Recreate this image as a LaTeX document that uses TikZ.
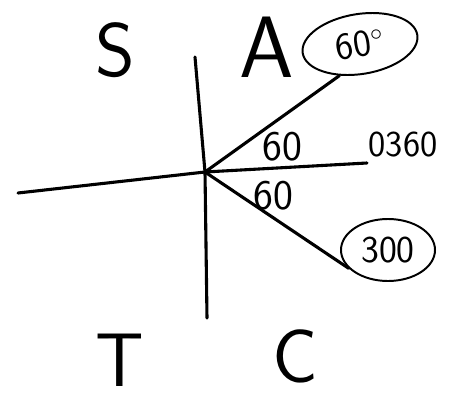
\documentclass[tikz,border=0pt]{standalone}
\usepackage{tikz}
\usetikzlibrary{shapes.geometric}

\begin{document}
\begin{tikzpicture}[
    x=0.025cm, y=-0.025cm,
    axis/.style={line width=2.2pt,line cap=round},
    ray/.style={line width=2.2pt,line cap=round},
    quad/.style={font=\fontsize{54}{54}\sffamily},
    ang/.style={font=\fontsize{30}{30}\sffamily,inner sep=0pt},
    ring/.style={ellipse,draw,line width=1.4pt,inner sep=0pt,
                 font=\fontsize{27}{27}\sffamily}
  ]
  \useasboundingbox (0,0) rectangle (449,402);

  % axes
  \coordinate (O) at (205,172);
  \coordinate (ytop) at (195,57);
  \coordinate (ybot) at (207,318);
  \coordinate (xl) at (18,193);
  \coordinate (xr) at (367,163);
  \draw[axis] (ytop) -- (O) -- (ybot);
  \draw[axis] (xl) -- (O) -- (xr);

  % quadrant letters
  \node[quad] (qs) at (115,50) {S};
  \node[quad,font=\fontsize{62}{62}\sffamily] (qa) at (267,47) {A};
  \node[quad] (qt) at (120,360) {T};
  \node[quad] (qc) at (295,356) {C};

  % angles
  \node[ring,minimum width=2.9cm,minimum height=1.5cm,rotate=9] (e60) at (360,44) {60$^{\circ}$};
  \node[ring,minimum width=2.35cm,minimum height=1.55cm] (e300) at (388,250) {300};
  \draw[ray] (O) -- (e60.228);
  \draw[ray] (O) -- (e300.205);

  \node[ang] (a1) at (282,147) {60};
  \node[ang] (a2) at (273,196) {60};
  \node[ang,font=\fontsize{26}{26}\sffamily] (a0) at (403,145) {0360};
\end{tikzpicture}
\end{document}
